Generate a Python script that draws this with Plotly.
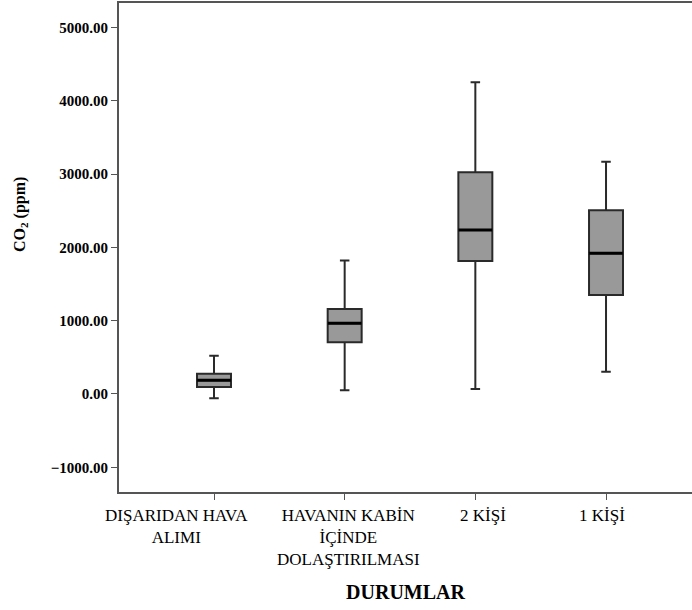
import plotly.graph_objects as go

# ---- data ----
categories = ["DIŞARIDAN HAVA ALIMI", "HAVANIN KABİN İÇİNDE DOLAŞTIRILMASI", "2 KİŞİ", "1 KİŞİ"]
category_labels = ["DIŞARIDAN HAVA<br>ALIMI", "HAVANIN KABİN<br>İÇİNDE<br>DOLAŞTIRILMASI", "2 KİŞİ", "1 KİŞİ"]
lower_whisker = [-57, 50, 68, 305]
q1_values = [97, 705, 1814, 1350]
median_values = [187, 966, 2237, 1919]
q3_values = [275, 1160, 3024, 2506]
upper_whisker = [522, 1820, 4252, 3169]
y_ticks = [-1000, 0, 1000, 2000, 3000, 4000, 5000]

label_xshift = [-38, 4, 8, -4]

FONT = "Liberation Serif"

fig = go.Figure()
fig.add_trace(go.Box(
    x=categories, q1=q1_values, median=median_values, q3=q3_values,
    lowerfence=lower_whisker, upperfence=upper_whisker,
    fillcolor="#999999", line=dict(color="#2a2a2a", width=2),
    width=0.26, whiskerwidth=0.28, boxpoints=False, showlegend=False,
    hoverinfo="skip",
))
fig.add_trace(go.Scatter(
    x=categories, y=median_values, mode="markers",
    marker=dict(symbol="line-ew", size=24, line=dict(width=3, color="#000000")),
    showlegend=False, hoverinfo="skip",
))

for cat, lab, dx in zip(categories, category_labels, label_xshift):
    fig.add_annotation(
        x=cat, xref="x", y=0, yref="paper", yanchor="top", yshift=-12, xshift=dx,
        text=lab, showarrow=False, align="center",
        font=dict(family=FONT, size=17, color="#000000"),
    )

# y-axis title (placed as in the reference, above the plot centre)
fig.add_annotation(
    x=-99 / 573, xref="paper", y=(492 - 215) / 489, yref="paper",
    xanchor="center", yanchor="middle", textangle=-90,
    text="CO<sub>2</sub> (ppm)", showarrow=False,
    font=dict(family=FONT, size=16, weight="bold", color="#000000"),
)

fig.update_layout(
    width=692, height=610,
    margin=dict(l=119, r=0, t=3, b=118),
    paper_bgcolor="white", plot_bgcolor="white",
    font=dict(family=FONT, color="#000000"),
    xaxis=dict(
        type="category", categoryorder="array", categoryarray=categories,
        range=[-0.727, 3.658], showgrid=False, zeroline=False,
        showline=True, mirror=True, linecolor="#555555", linewidth=2,
        ticks="outside", ticklen=6, tickwidth=1, tickcolor="#555555",
        showticklabels=False,
        title=dict(text="DURUMLAR", font=dict(family=FONT, size=20, weight="bold"), standoff=86),
    ),
    yaxis=dict(
        range=[-1337, 5334], tickvals=y_ticks, tickformat=".2f",
        showgrid=False, zeroline=False,
        showline=True, linecolor="#555555", linewidth=2,
        ticks="outside", ticklen=6, tickwidth=1, tickcolor="#555555",
        tickfont=dict(family=FONT, size=15, weight="bold"),
    ),
)

fig.write_html("out.html", config={"displayModeBar": False})

# remove the default page margin so the figure sits at the window's top-left corner
with open("out.html", "r", encoding="utf-8") as f:
    html = f.read()
html = html.replace("<body>", '<body style="margin:0;">', 1)
with open("out.html", "w", encoding="utf-8") as f:
    f.write(html)
